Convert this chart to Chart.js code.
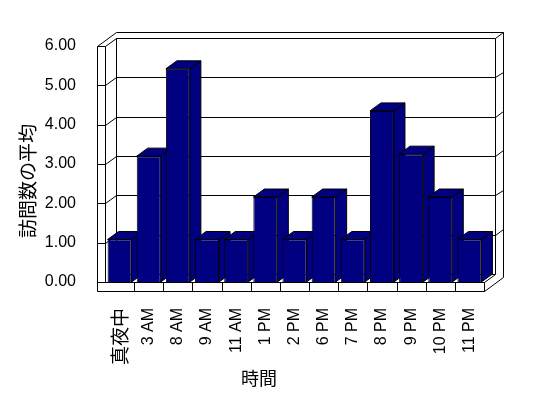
<!DOCTYPE html>
<html><head><meta charset="utf-8">
<script src="https://cdn.jsdelivr.net/npm/chart.js@4/dist/chart.umd.min.js"></script>
<style>html,body{margin:0;padding:0;background:#fff;} #wrap{width:548px;height:398px;}</style>
</head><body><div id="wrap"><canvas id="c" width="548" height="398"></canvas></div>
<script>
const categories = ['真夜中','3 AM','8 AM','9 AM','11 AM','1 PM','2 PM','6 PM','7 PM','8 PM','9 PM','10 PM','11 PM'];
const visitAverages = [1.08, 3.2, 5.42, 1.08, 1.08, 2.16, 1.08, 2.16, 1.08, 4.35, 3.25, 2.16, 1.08];
const valueTicks = [0, 1, 2, 3, 4, 5, 6];
const yTitle = '訪問数の平均';
const xTitle = '時間';

const DX = 11, DY = -8;      // projection of one depth unit
const WALL = 8;              // left wall thickness (px)
const BACK_T = 0.7;          // back wall thickness (depth units)
const FLOOR_H = 9;           // floor slab thickness (px)
const BAR_COLOR = '#000080';
const LATIN = '"Liberation Sans", Arial, sans-serif';
const CJK = '"Noto Sans CJK JP", sans-serif';

function seg(ctx, pts) {
  ctx.beginPath();
  pts.forEach((p, i) => {
    const x = Math.round(p[0]) + 0.5, y = Math.round(p[1]) + 0.5;
    if (i === 0) ctx.moveTo(x, y); else ctx.lineTo(x, y);
  });
  ctx.stroke();
}
function poly(ctx, pts, fill) {
  ctx.beginPath();
  pts.forEach((p, i) => { if (i === 0) ctx.moveTo(p[0], p[1]); else ctx.lineTo(p[0], p[1]); });
  ctx.closePath();
  ctx.fillStyle = fill; ctx.fill(); ctx.stroke();
}

const box3d = {
  id: 'box3d',
  beforeDatasetsDraw(chart) {
    const ctx = chart.ctx, ca = chart.chartArea, ys = chart.scales.y, xs = chart.scales.x;
    const L = ca.left, R = ca.right;
    const B = ys.getPixelForValue(valueTicks[0]);
    const T = ys.getPixelForValue(valueTicks[valueTicks.length - 1]);
    const oL = L - WALL, D2 = 1 + BACK_T;
    ctx.save();
    ctx.lineWidth = 1; ctx.strokeStyle = '#000';
    // back wall thickness top & right
    seg(ctx, [[oL + DX * D2, T + DY * D2], [R + DX * D2, T + DY * D2], [R + DX * D2, B + FLOOR_H + DY * D2]]);
    seg(ctx, [[L + DX, T + DY], [R + DX, T + DY], [R + DX * D2, T + DY * D2]]);
    seg(ctx, [[R + DX, T + DY], [R + DX, B + DY]]);
    seg(ctx, [[L + DX, T + DY], [L + DX, B + DY]]);
    // left wall
    seg(ctx, [[oL + DX * D2, T + DY * D2], [oL, T], [L, T], [L + DX, T + DY]]);
    seg(ctx, [[oL, T], [oL, B + FLOOR_H]]);
    seg(ctx, [[L, T], [L, B]]);
    // gridlines
    valueTicks.forEach(v => {
      if (v === valueTicks[0] || v === valueTicks[valueTicks.length - 1]) return;
      const y = ys.getPixelForValue(v);
      seg(ctx, [[oL, y], [L, y], [L + DX, y + DY], [R + DX, y + DY], [R + DX * D2, y + DY * D2]]);
    });
    // floor
    seg(ctx, [[L + DX, B + DY], [R + DX, B + DY]]);
    seg(ctx, [[oL, B], [R, B], [R + DX, B + DY]]);
    seg(ctx, [[oL, B + FLOOR_H], [R, B + FLOOR_H], [R + DX * D2, B + FLOOR_H + DY * D2]]);
    seg(ctx, [[R, B], [R, B + FLOOR_H]]);
    for (let i = 1; i < categories.length; i++) {
      const x = (xs.getPixelForTick(i - 1) + xs.getPixelForTick(i)) / 2;
      seg(ctx, [[x, B], [x, B + FLOOR_H]]);
    }
    // bar top & side faces (behind the front faces)
    const meta = chart.getDatasetMeta(0);
    meta.data.forEach(el => {
      const p = el.getProps(['x', 'y', 'base', 'width'], true);
      const l = p.x - p.width / 2, r = p.x + p.width / 2, t = p.y, b = p.base;
      poly(ctx, [[r, t], [r + DX, t + DY], [r + DX, b + DY], [r, b]], BAR_COLOR);
      poly(ctx, [[l, t], [l + DX, t + DY], [r + DX, t + DY], [r, t]], BAR_COLOR);
    });
    ctx.restore();
  },
  afterDraw(chart) {
    const ctx = chart.ctx;
    ctx.save();
    ctx.fillStyle = '#000';
    ctx.textAlign = 'center'; ctx.textBaseline = 'middle';
    ctx.font = '18px ' + CJK;
    ctx.fillText(xTitle, 259, 378);
    ctx.translate(28, 181);
    ctx.rotate(-Math.PI / 2);
    ctx.font = '19px ' + CJK;
    ctx.fillText(yTitle, 0, 0);
    ctx.restore();
  }
};

new Chart(document.getElementById('c'), {
  type: 'bar',
  data: {
    labels: categories,
    datasets: [{
      data: visitAverages,
      backgroundColor: BAR_COLOR,
      borderColor: '#000',
      borderWidth: 1,
      barPercentage: 0.823,
      categoryPercentage: 1.0
    }]
  },
  options: {
    responsive: false,
    animation: false,
    devicePixelRatio: 1,
    layout: { padding: { left: 0, top: 46, right: 64, bottom: 0 } },
    plugins: { legend: { display: false }, tooltip: { enabled: false } },
    scales: {
      x: {
        type: 'category',
        grid: { display: false },
        border: { display: false },
        ticks: {
          autoSkip: false, maxRotation: 90, minRotation: 90, padding: 18, color: '#000',
          font: (c) => (c.index === 0 ? { family: CJK, size: 19 } : { family: LATIN, size: 16 })
        },
        afterFit: (s) => { s.height = 116; }
      },
      y: {
        min: valueTicks[0], max: valueTicks[valueTicks.length - 1],
        grid: { display: false },
        border: { display: false },
        ticks: {
          stepSize: 1, padding: 21, color: '#000',
          font: { family: LATIN, size: 16 },
          callback: (v) => Number(v).toFixed(2)
        },
        afterFit: (s) => { s.width = 105; }
      }
    }
  },
  plugins: [box3d]
});
</script>
</body></html>
